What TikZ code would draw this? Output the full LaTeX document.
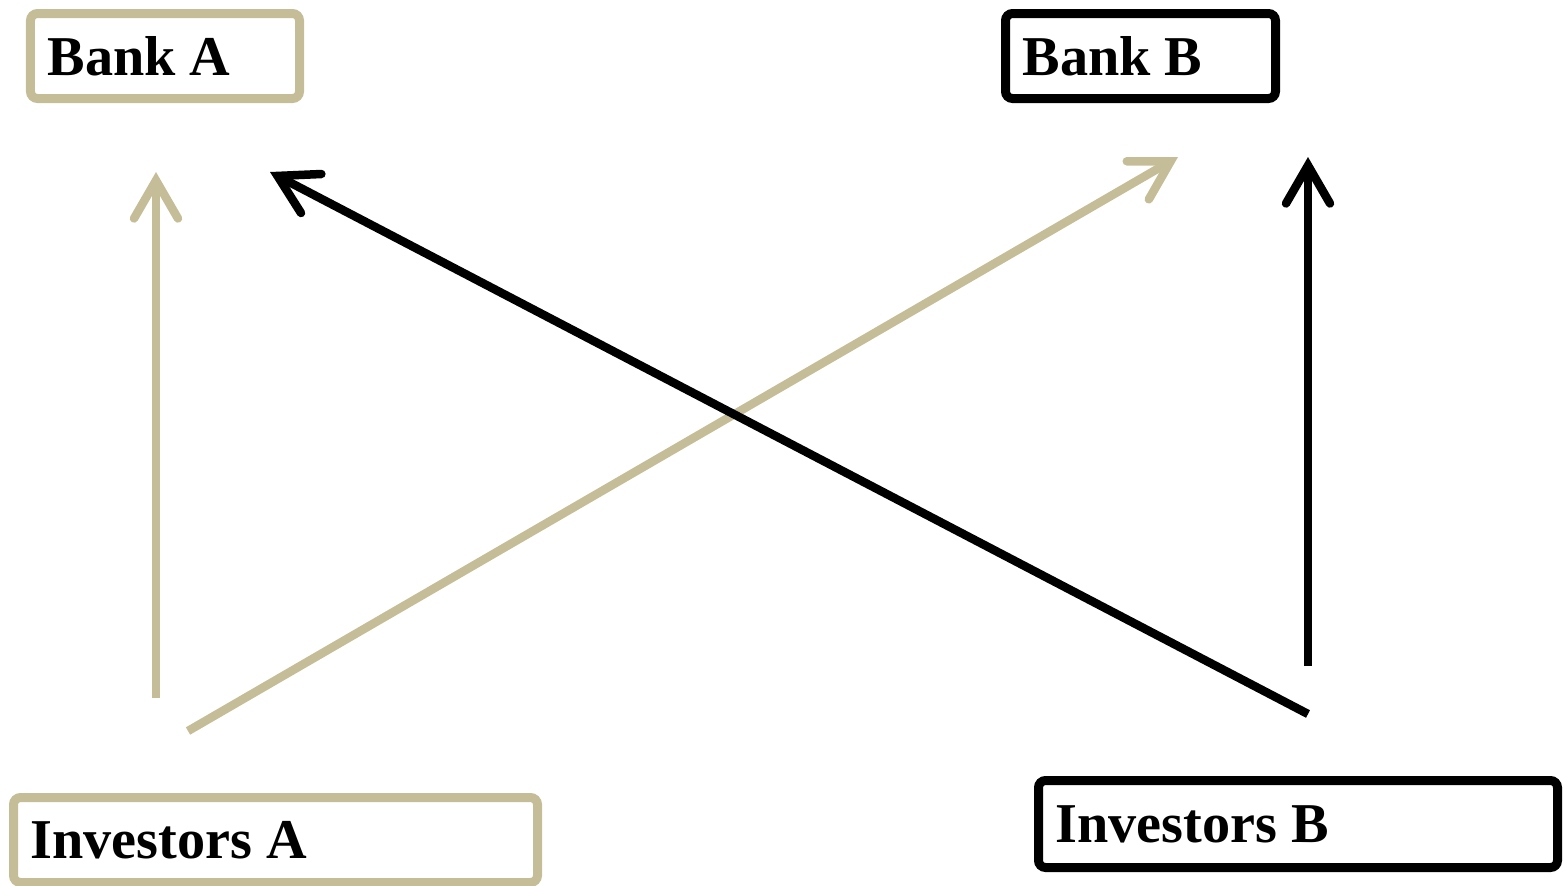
\documentclass[tikz,border=0pt]{standalone}
\usepackage{fontspec}
\setmainfont{Liberation Serif}
\usetikzlibrary{arrows.meta}
\definecolor{tan}{RGB}{196,189,151}
\newcommand{\lbl}[2]{\makebox[#1][l]{#2}}

\begin{document}
\begin{tikzpicture}
      [bank/.style={draw, line width=0.09cm, rounded corners=2pt, fill=white,
        minimum height=0.85cm, inner xsep=0.17cm,
        font=\fontsize{16}{19}\selectfont\bfseries},
      arr/.style={line width=0.085cm,
        -{Straight Barb[length=0.38cm, width=0.44cm, line cap=round, line join=miter]}}]
      \useasboundingbox (0, 0) rectangle (15.64, 8.85);
      % boxes
      \node (bankA) at (1.65, 8.29) [bank, draw=tan, minimum width=2.69cm] {\lbl{2.35cm}{Bank A}};
      \node (bankB) at (11.405, 8.29) [bank, minimum width=2.70cm] {\lbl{2.36cm}{Bank B}};
      \node (invA) at (2.755, 0.45) [bank, draw=tan, minimum width=5.24cm] {\lbl{4.90cm}{Investors A}};
      \node (invB) at (12.98, 0.61) [bank, minimum width=5.19cm, minimum height=0.87cm] {\lbl{4.85cm}{Investors B}};
      % arrows
      \coordinate (tA1) at (1.56, 7.13);
      \coordinate (tB1) at (11.78, 7.28);
      \coordinate (tA2) at (2.70, 7.13);
      \coordinate (tB2) at (13.08, 7.28);
      \coordinate (sA1) at (1.56, 1.87)
      edge[arr, tan] (tA1);
      \coordinate (sA2) at (1.88, 1.54)
      edge[arr, tan] (tB1);
      \coordinate (sB1) at (13.08, 1.71)
      edge[arr] (tA2);
      \coordinate (sB2) at (13.08, 2.19)
      edge[arr] (tB2);
    \end{tikzpicture}
\end{document}
